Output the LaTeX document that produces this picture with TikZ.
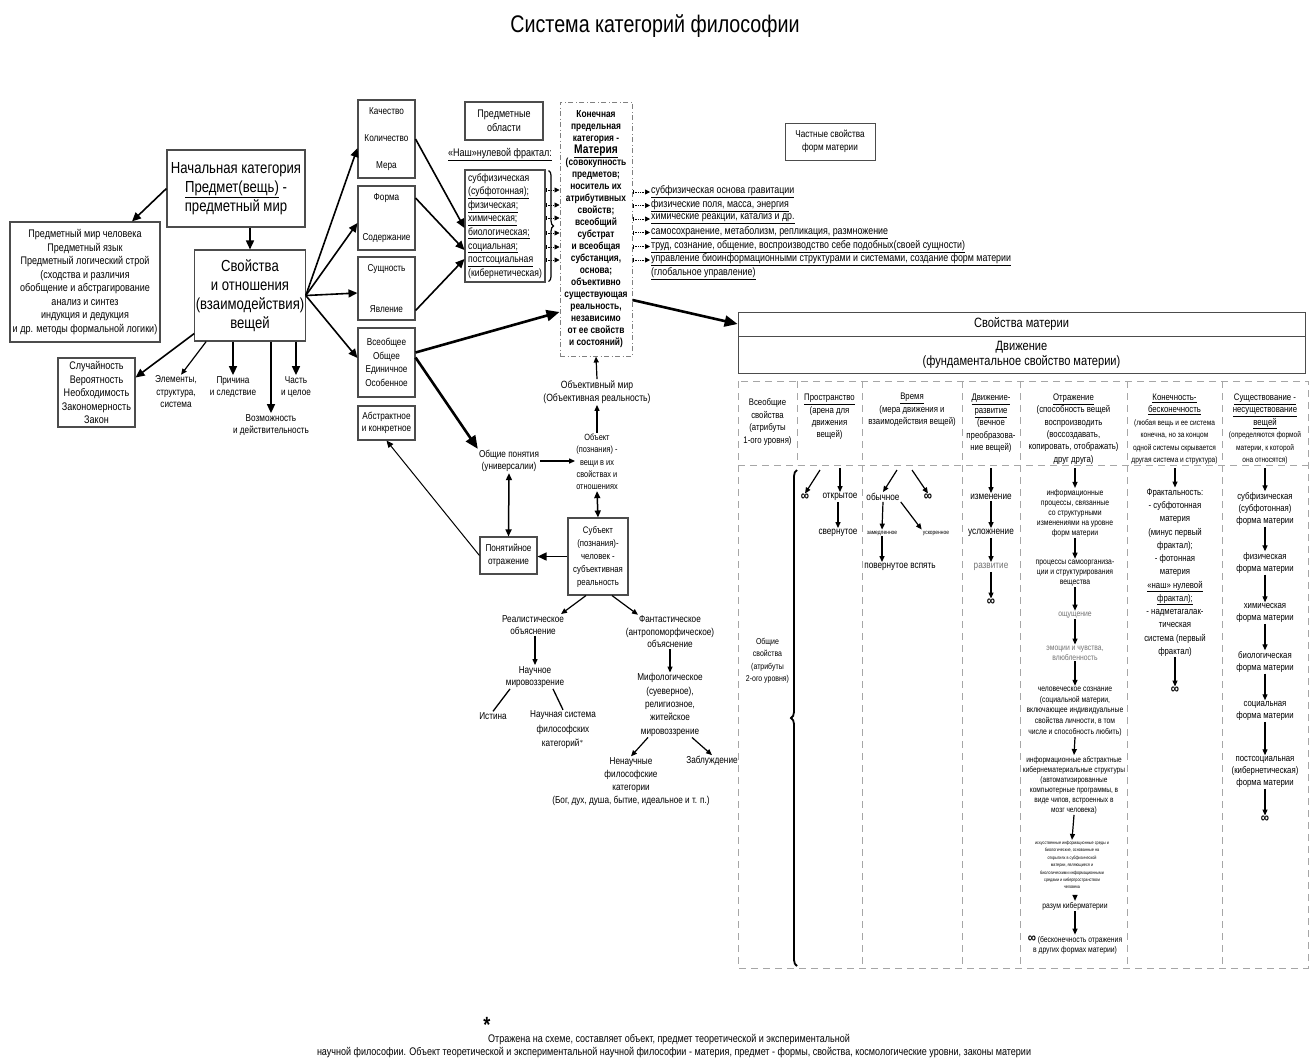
\documentclass[tikz,border=0pt]{standalone}
\usepackage{fontspec}
\setmainfont{Liberation Sans}[FakeStretch=0.82]
\usetikzlibrary{arrows.meta,calc,decorations.pathreplacing}

% font sizes
\newcommand{\fTtl}{\fontsize{24}{28}\selectfont}
\newcommand{\fBig}{\fontsize{16}{19}\selectfont}
\newcommand{\fMed}{\fontsize{11}{13.5}\selectfont}
\newcommand{\fSm}{\fontsize{10}{12.5}\selectfont}
\newcommand{\fHd}{\fontsize{9.5}{12.4}\selectfont}
\newcommand{\fTb}{\fontsize{8.3}{10}\selectfont}
\newcommand{\fMic}{\fontsize{4.6}{7.4}\selectfont}
\newcommand{\fFn}{\fontsize{11}{12}\selectfont}
\newcommand{\fInf}{\fontsize{14}{12}\selectfont\bfseries}

\tikzset{
  box/.style={draw=black!70, line width=1.1pt, align=center, inner sep=1pt},
  dbox/.style={draw=black!35, line width=0.9pt, dash pattern=on 7pt off 5pt},
  lbl/.style={align=center, inner sep=1pt},
  infl/.style={inner sep=0pt, font=\fInf},
  arr/.style={-{Triangle[length=9pt,width=8pt]}, line width=1.6pt},
  barr/.style={-{Triangle[length=13pt,width=11pt]}, line width=2.6pt},
  sarr/.style={-{Triangle[length=6pt,width=5pt]}, line width=1.2pt},
  darr/.style={{Triangle[length=7pt,width=6pt]}-{Triangle[length=7pt,width=6pt]}, line width=1.5pt},
  tarr/.style={{Bar[width=4pt]}-{Triangle[length=5pt,width=5pt]}, densely dotted, line width=0.7pt},
}

\begin{document}
\begin{tikzpicture}[x=1pt,y=-1pt]
\useasboundingbox (0,0) rectangle (1310,1061);

% Title
\node (title) at (655,26) [lbl,font=\fTtl] {Система категорий философии};

% Starting category
\node (nach) at (236,188.5) [box,font=\fBig,minimum width=138,minimum height=77] {Начальная категория\\\underline{Предмет(вещь)} -\\предметный мир};
\node (svo) at (250,295.5) [box,font=\fBig,minimum width=110,minimum height=91] {Свойства\\и отношения\\(взаимодействия)\\вещей};
\node (predm) at (85,282) [box,font=\fMed,minimum width=150,minimum height=120] {Предметный мир человека\\Предметный язык\\Предметный логический строй\\(сходства и различия\\обобщение и абстрагирование\\анализ и синтез\\индукция и дедукция\\и др. методы формальной логики)};
\node (sluch) at (96.5,392.5) [box,font=\fMed,minimum width=77,minimum height=69] {Случайность\\Вероятность\\Необходимость\\Закономерность\\Закон};
\node (elem) at (176,392) [lbl,font=\fSm] {Элементы,\\структура,\\система};
\node (prich) at (233,387) [lbl,font=\fSm] {Причина\\и следствие};
\node (vozm) at (271,425) [lbl,font=\fSm] {Возможность\\и действительность};
\node (chast) at (296,387) [lbl,font=\fSm] {Часть\\и целое};

\draw[arr] (nach.west) -- ($(predm.north)+(47,0)$);
\draw[arr] (nach.south -| svo.north) -- (svo.north);
\draw[arr] ($(svo.south west)+(0,-8)$) -- ($(sluch.east)+(0,-15)$);
\draw[sarr] ($(svo.south west)+(12,0)$) -- ($(elem.north)+(5,0)$);
\draw[arr] (svo.south -| prich.north) -- (prich.north);
\draw[arr] (svo.south -| vozm.north) -- (vozm.north);
\draw[arr] (svo.south -| chast.north) -- (chast.north);

% Pairs of categories
\node (kach) at (386.5,139) [box,font=\fSm,minimum width=57,minimum height=78] {Качество\\[15pt]Количество\\[14pt]Мера};
\node (forma) at (386.5,218) [box,font=\fSm,minimum width=57,minimum height=64] {Форма\\[27pt]Содержание};
\node (sush) at (386.5,288.5) [box,font=\fSm,minimum width=57,minimum height=63] {Сущность\\[29pt]Явление};
\node (vseob) at (386.5,362.5) [box,font=\fontsize{10}{13.7}\selectfont,minimum width=57,minimum height=69] {Всеобщее\\Общее\\Единичное\\Особенное};
\node (abstr) at (386.5,423) [box,font=\fSm,minimum width=57,minimum height=34] {Абстрактное\\и конкретное};

\draw[arr] (svo.east) -- ($(kach.west)+(0,9)$);
\draw[arr] (svo.east) -- ($(forma.west)+(0,5)$);
\draw[arr] (svo.east) -- ($(sush.west)+(0,4.5)$);
\draw[arr] (svo.east) -- ($(vseob.west)+(0,-4.5)$);

% Subject areas and matter
\node (predobl) at (504,121) [box,font=\fMed,minimum width=78,minimum height=38] {Предметные\\области};
\node (nash) at (500,155) [lbl,font=\fMed] {\underline{«Наш»нулевой фрактал:}};
\node (sub) at (505,226) [box,font=\fontsize{10.5}{13.6}\selectfont,align=left,minimum width=80,minimum height=112] {субфизическая\\\underline{(субфотонная);}\\\underline{физическая;}\\\underline{химическая;}\\\underline{биологическая;}\\\underline{социальная;}\\\underline{постсоциальная}\\(кибернетическая)};
\node (mat) at (596,229) [draw=black!50,line width=1pt,dash pattern=on 5pt off 2.5pt on 1pt off 2.5pt,align=center,inner sep=0pt,minimum width=72,minimum height=254,font=\fontsize{10.2}{12}\selectfont\bfseries] {Конечная\\предельная\\категория -\\{\fontsize{12.5}{12}\selectfont\underline{Материя}}\\(совокупность\\предметов;\\носитель их\\атрибутивных\\свойств;\\всеобщий\\субстрат\\и всеобщая\\субстанция,\\основа;\\объективно\\существующая\\реальность,\\независимо\\от ее свойств\\и состояний)};

\draw[arr] (kach.east) -- ($(sub.west)+(0,2)$);
\draw[arr] ($(forma.east)+(0,-20)$) -- ($(sub.west)+(0,24)$);
\draw[arr] ($(sush.east)+(0,22)$) -- ($(sub.west)+(0,33)$);
\draw[barr] ($(vseob.east)+(0,-10)$) -- ($(mat.west)+(0,83)$);

\draw[line width=1.2pt,decorate,decoration={brace,amplitude=5pt}] ($(sub.north east)+(3,1)$) -- ($(sub.south east)+(3,-1)$);
\foreach \y in {190,205,218,233,247,260}
  \draw[tarr] (sub.east |- 0,\y) -- (mat.west |- 0,\y);

% Particular properties
\node (chst) at (830,141.5) [box,font=\fSm,line width=0.8pt,minimum width=90,minimum height=37] {Частные свойства\\форм материи};
\node (p1) at (650,192) [anchor=west,inner sep=1pt,font=\fontsize{10.8}{13}\selectfont] {\underline{субфизическая основа гравитации}};
\node (p2) at (650,205.5) [anchor=west,inner sep=1pt,font=\fontsize{10.8}{13}\selectfont] {\underline{физические поля, масса, энергия}};
\node (p3) at (650,219) [anchor=west,inner sep=1pt,font=\fontsize{10.8}{13}\selectfont] {\underline{химические реакции, катализ и др.}};
\node (p4) at (650,232.5) [anchor=west,inner sep=1pt,font=\fontsize{10.8}{13}\selectfont] {\underline{самосохранение, метаболизм, репликация, размножение}};
\node (p5) at (650,246.5) [anchor=west,inner sep=1pt,font=\fontsize{10.8}{13}\selectfont] {\underline{труд, сознание, общение, воспроизводство себе подобных(своей сущности)}};
\node (p6) at (650,260) [anchor=west,inner sep=1pt,font=\fontsize{10.8}{13}\selectfont] {\underline{управление биоинформационными структурами и системами, создание форм материи}};
\node (p7) at (650,273.5) [anchor=west,inner sep=1pt,font=\fontsize{10.8}{13}\selectfont] {\underline{(глобальное управление)}};
\foreach \n in {p1,p2,p3,p4,p5,p6}
  \draw[tarr] (mat.east |- \n.west) -- (\n.west);

% Properties of matter
\node (svmat) at (1021.5,324) [box,line width=0.8pt,font=\fontsize{13.5}{15.5}\selectfont,minimum width=567,minimum height=24] {Свойства материи};
\node (dvizh) at (1021.5,354.5) [box,line width=0.8pt,font=\fontsize{13.5}{15}\selectfont,minimum width=567,minimum height=37] {Движение\\(фундаментальное свойство материи)};
\draw[barr] ($(mat.east)+(0,71)$) -- (svmat.west);

% Table
\draw[dbox] (738,381) rectangle (1308,968);
\draw[dbox] (738,465) -- (1308,465);
\draw[dbox] (797,381) -- (797,465);
\foreach \x in {862,962,1020,1127,1222}
  \draw[dbox] (\x,381) -- (\x,968);
\coordinate (hl) at (738,468);

\node (h0) at (767.5,422) [lbl,font=\fHd] {Всеобщие\\свойства\\(атрибуты\\1-ого уровня)};
\node (h1) at (829.5,417) [lbl,font=\fHd] {\underline{Пространство}\\(арена для\\движения\\вещей)};
\node (h2) at (912,410) [lbl,font=\fHd] {\underline{Время}\\(мера движения и\\взаимодействия вещей)};
\node (h3) at (991,423.5) [lbl,font=\fHd] {\underline{Движение-}\\\underline{развитие}\\(вечное\\преобразова-\\ние вещей)};
\node (h4) at (1073.5,429) [lbl,font=\fHd] {\underline{Отражение}\\(способность вещей\\воспроизводить\\(воссоздавать,\\копировать, отображать)\\друг друга)};
\node (h5) at (1174.5,429) [lbl,font=\fontsize{8}{12.4}\selectfont] {{\fHd\underline{Конечность-}}\\{\fHd\underline{бесконечность}}\\(любая вещь и ее система\\конечна, но за концом\\одной системы скрывается\\другая система и структура)};
\node (h6) at (1265,429) [lbl,font=\fontsize{8}{12.4}\selectfont] {{\fHd\underline{Существование -}}\\{\fHd\underline{несуществование}}\\{\fHd\underline{вещей}}\\(определяются формой\\материи, к которой\\она относятся)};

\node (obsv) at (767.5,661) [lbl,font=\fontsize{8.5}{12.5}\selectfont] {Общие\\свойства\\(атрибуты\\2-ого уровня)};
\draw[line width=1.8pt,decorate,decoration={brace,amplitude=6pt}] (797,966) -- (797,470);

% Space
\node (inf1) at (805,497) [infl] {∞};
\node (otkr) at (840,497) [lbl,font=\fSm] {открытое};
\node (sver) at (838,533) [lbl,font=\fSm] {свернутое};
\draw[sarr] ($(hl)+(82,2)$) -- (inf1.north);
\draw[sarr] (otkr.north |- hl) -- (otkr.north);
\draw[sarr] (otkr.south -| sver.north) -- (sver.north);

% Time
\node (obych) at (883,497) [lbl,font=\fSm] {обычное};
\node (inf2) at (928,497) [infl] {∞};
\node (zamed) at (882,533) [lbl,font=\fontsize{6}{7}\selectfont] {замедленное};
\node (uskor) at (936,533) [lbl,font=\fontsize{6}{7}\selectfont] {ускоренное};
\node (povern) at (900,567) [lbl,font=\fSm] {повернутое вспять};
\draw[sarr] ($(hl)+(159,2)$) -- (obych.north);
\draw[sarr] ($(hl)+(174,2)$) -- (inf2.north);
\draw[sarr] (obych.south) -- (zamed.north);
\draw[sarr] (obych.south east) -- (uskor.north west);
\draw[sarr] (zamed.south) -- (zamed.south |- povern.north);

% Development
\node (izm) at (991,497) [lbl,font=\fSm] {изменение};
\node (usl) at (991,533) [lbl,font=\fSm] {усложнение};
\node (razv) at (991,567) [lbl,font=\fSm,text=black!55] {развитие};
\node (inf3) at (991,602) [infl] {∞};
\draw[sarr] (izm.north |- hl) -- (izm.north);
\draw[sarr] (izm.south) -- (usl.north);
\draw[sarr] (usl.south) -- (razv.north);
\draw[sarr] (razv.south) -- (inf3.north);

% Reflection
\node (k1) at (1075,513) [lbl,font=\fTb] {информационные\\процессы, связанные\\со структурными\\изменениями на уровне\\форм материи};
\node (k2) at (1075,573) [lbl,font=\fTb] {процессы самоорганиза-\\ции и структурирования\\вещества};
\node (k3) at (1075,615) [lbl,font=\fTb,text=black!55] {ощущение};
\node (k4) at (1075,653) [lbl,font=\fTb,text=black!55] {эмоции и чувства,\\влюбленность};
\node (k5) at (1075,711.5) [lbl,font=\fontsize{8.3}{10.7}\selectfont] {человеческое сознание\\(социальной материи,\\включающее индивидуальные\\свойства личности, в том\\числе и способность любить)};
\node (k6) at (1074,785) [lbl,font=\fontsize{8}{10}\selectfont] {информационные абстрактные\\кибернематериальные структуры\\(автоматизированные\\компьютерные программы, в\\виде чипов, встроенных в\\мозг человека)};
\node (k7) at (1072,865) [lbl,font=\fMic] {искусственные информационные среды и\\биологические, основанные на\\открытиях в субфизической\\материи, являющиеся и\\биологическими информационными\\средами и киберпространством\\человека};
\node (k8) at (1075,906) [lbl,font=\fTb] {разум киберматерии};
\node (k9) at (1075,945) [lbl,font=\fTb] {{\fInf ∞} (бесконечность отражения\\в других формах материи)};
\draw[sarr] (k1.north |- hl) -- (k1.north);
\draw[sarr] (k1.south) -- (k2.north);
\draw[sarr] (k2.south) -- (k3.north);
\draw[sarr] (k3.south) -- (k4.north);
\draw[sarr] (k4.south) -- (k5.north);
\draw[sarr] (k5.south) -- (k6.north);
\draw[sarr] (k6.south) -- (k7.north);
\draw[sarr] ($(k8.north)+(0,-6)$) -- (k8.north);
\draw[sarr] (k8.south) -- (k9.north);

% Finiteness
\node (f1) at (1175,572.5) [lbl,font=\fontsize{9.5}{13.25}\selectfont] {Фрактальность:\\- субфотонная\\материя\\(минус первый\\фрактал);\\- фотонная\\материя\\\underline{«наш» нулевой}\\\underline{фрактал);}\\- надметагалак-\\тическая\\система (первый\\фрактал)};
\node (inf5) at (1175,690) [infl] {∞};
\draw[sarr] (f1.north |- hl) -- (f1.north);
\draw[sarr] (f1.south) -- (inf5.north);

% Existence
\node (e1) at (1265,509) [lbl,font=\fontsize{9.5}{12}\selectfont] {субфизическая\\(субфотонная)\\форма материи};
\node (e2) at (1265,563) [lbl,font=\fontsize{9.5}{12}\selectfont] {физическая\\форма материи};
\node (e3) at (1265,613) [lbl,font=\fontsize{9.5}{12}\selectfont] {химическая\\форма материи};
\node (e4) at (1265,662) [lbl,font=\fontsize{9.5}{12}\selectfont] {биологическая\\форма материи};
\node (e5) at (1265,711) [lbl,font=\fontsize{9.5}{12}\selectfont] {социальная\\форма материи};
\node (e6) at (1265,772) [lbl,font=\fontsize{9.5}{12}\selectfont] {постсоциальная\\(кибернетическая)\\форма материи};
\node (inf6) at (1265,819) [infl] {∞};
\draw[sarr] (e1.north |- hl) -- (e1.north);
\draw[sarr] (e1.south) -- (e2.north);
\draw[sarr] (e2.south) -- (e3.north);
\draw[sarr] (e3.south) -- (e4.north);
\draw[sarr] (e4.south) -- (e5.north);
\draw[sarr] (e5.south) -- (e6.north);
\draw[sarr] (e6.south) -- (inf6.north);

% Object and subject of cognition
\node (objmir) at (597,392) [lbl,font=\fontsize{10.5}{13.5}\selectfont] {Объективный мир\\(Объективная реальность)};
\node (obj) at (597,462) [lbl,font=\fontsize{9}{12.3}\selectfont] {Объект\\(познания) -\\вещи в их\\свойствах и\\отношениях};
\node (obpon) at (509,461) [lbl,font=\fSm] {Общие понятия\\(универсалии)};
\node (ponotr) at (508.5,555.5) [box,font=\fSm,minimum width=57,minimum height=37] {Понятийное\\отражение};
\node (subj) at (598,556.5) [box,font=\fontsize{9.5}{13}\selectfont,minimum width=60,minimum height=77] {Субъект\\(познания)-\\человек -\\субъективная\\реальность};
\node (real) at (533,625) [lbl,font=\fSm] {Реалистическое\\объяснение};
\node (nauch) at (535,677) [lbl,font=\fSm] {Научное\\мировоззрение};
\node (ist) at (493,716) [lbl,font=\fSm] {Истина};
\node (nsys) at (563,730) [lbl,font=\fontsize{10}{14.5}\selectfont] {Научная система\\философских\\категорий$^{*}$};
\node (fant) at (670,632) [lbl,font=\fSm] {Фантастическое\\(антропоморфическое)\\объяснение};
\node (mif) at (670,705) [lbl,font=\fontsize{10}{13.3}\selectfont] {Мифологическое\\(суеверное),\\религиозное,\\житейское\\мировоззрение};
\node (nenauch) at (631,781.5) [lbl,font=\fontsize{10}{13}\selectfont] {Ненаучные\\философские\\категории\\(Бог, дух, душа, бытие, идеальное и т. п.)};
\node (zabl) at (712,761) [lbl,font=\fSm] {Заблуждение};

\draw[barr] ($(vseob.east)+(0,-5)$) -- (obpon.north west);
\draw[sarr] (objmir.north) -- (mat.south);
\draw[sarr] (obj.north) -- (objmir.south);
\draw[sarr] (obpon.east) -- (obpon.east -| obj.west);
\draw[darr] (obpon.south) -- (ponotr.north);
\draw[darr] (obj.south) -- (subj.north);
\draw[arr] (subj.west) -- (subj.west -| ponotr.east);
\draw[-{Triangle[length=7pt,width=6pt]},line width=1pt] (ponotr.west) -- (abstr.south);
\draw[sarr] ($(subj.south)+(-12,0)$) -- ($(real.north)+(28,0)$);
\draw[sarr] ($(subj.south)+(14,0)$) -- ($(fant.north)+(-32,0)$);
\draw[sarr] (nauch.north |- real.south) -- (nauch.north);
\draw[line width=1.3pt] ($(nauch.south)+(-25,0)$) -- (ist.north);
\draw[line width=1.3pt] ($(nauch.south)+(18,0)$) -- (nsys.north);
\draw[sarr] (fant.south) -- (mif.north);
\draw[sarr] ($(mif.south)+(-22,0)$) -- (nenauch.north);
\draw[sarr] ($(mif.south)+(22,0)$) -- (zabl.north);

% Footnote
\node (star) at (487,1025) [lbl,font=\fontsize{22}{22}\selectfont\bfseries] {*};
\node (fn1) at (669,1040) [lbl,font=\fFn] {Отражена на схеме, составляет объект, предмет теоретической и экспериментальной};
\node (fn2) at (674,1053) [lbl,font=\fFn] {научной философии. Объект теоретической и экспериментальной научной философии - материя, предмет - формы, свойства, космологические уровни, законы материи};
\end{tikzpicture}
\end{document}
